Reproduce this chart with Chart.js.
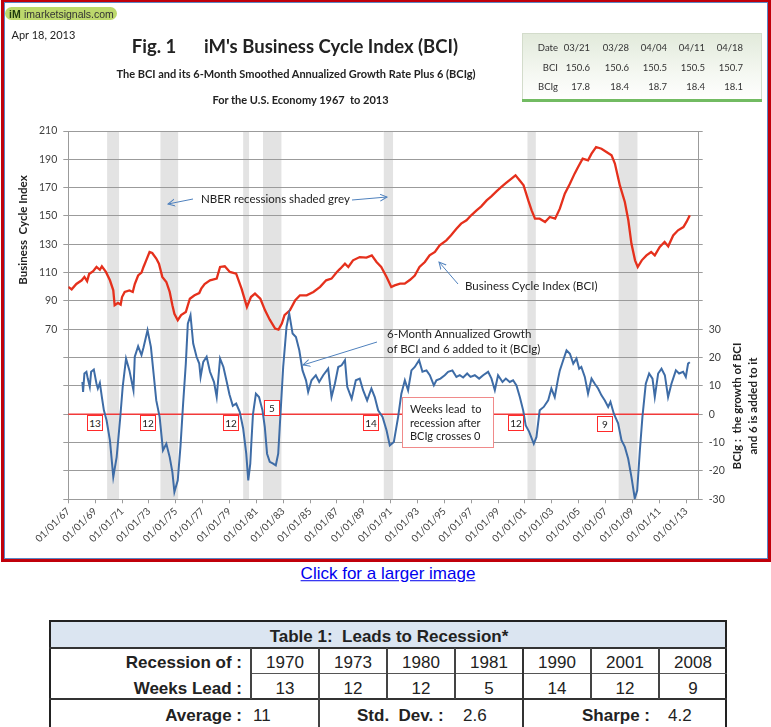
<!DOCTYPE html>
<html><head><meta charset="utf-8">
<script src="https://cdn.jsdelivr.net/npm/chart.js@4.4.1/dist/chart.umd.min.js"></script>
<style>
html,body{margin:0;padding:0;background:#fff;width:771px;height:727px;overflow:hidden;font-family:Lato,sans-serif;color:#222;}
#wrap{position:relative;width:771px;height:727px;}
.t{position:absolute;white-space:nowrap;line-height:1.15;}
.c{transform:translate(-50%,-50%);}
.l{transform:translate(0,-50%);}
.r{transform:translate(-100%,-50%);}
.rot{transform:translate(-50%,-50%) rotate(-90deg);}
.b{font-weight:bold;}
.box{position:absolute;box-sizing:border-box;}
.lbl{position:absolute;box-sizing:border-box;width:16px;height:16px;border:1px solid #ff2a2a;background:#fff;font-size:10px;line-height:14px;text-align:center;color:#222;}
.ar{font-family:"Liberation Sans",Arial,sans-serif;}
.ln{position:absolute;}
</style></head><body>
<div id="wrap">
<canvas id="c" width="771" height="562" style="position:absolute;left:0;top:0;width:771px;height:562px;"></canvas>

<!-- frame -->
<div class="box" style="left:1px;top:0;width:770px;height:562px;border:3px solid #c0000b;border-top-width:2px;"></div>
<div class="box" style="left:4px;top:2px;width:764px;height:557px;border:1px solid #5b87c5;"></div>

<!-- logo -->
<div class="box" style="left:5px;top:7px;width:112px;height:13px;border-radius:7px;background:#bcd86c;"></div>
<div class="t l b ar" style="left:9px;top:13.5px;font-size:10.5px;color:#1e3a0c;">iM</div>
<div class="t l ar" style="left:24px;top:13.5px;font-size:10.5px;color:#333;">imarketsignals.com</div>

<div class="t l" style="left:11.5px;top:35px;font-size:11px;">Apr 18, 2013</div>
<div class="t c b" style="left:154px;top:47px;font-size:18.5px;">Fig. 1</div>
<div class="t c b" style="left:331px;top:47px;font-size:18.5px;">iM's Business Cycle Index (BCI)</div>
<div class="t c b" style="left:296px;top:74px;font-size:11px;">The BCI and its 6-Month Smoothed Annualized Growth Rate Plus 6 (BCIg)</div>
<div class="t c b" style="left:300.5px;top:99.5px;font-size:11px;">For the U.S. Economy 1967&nbsp; to 2013</div>

<!-- small table -->
<div class="box" style="left:522px;top:33px;width:240px;height:68px;border:1px solid #d3dccb;border-bottom:none;background:linear-gradient(#e2eadb,#f5f8f2 60%,#fff);"></div>
<div class="box" style="left:522px;top:99px;width:240px;height:3px;background:#72bb62;"></div>
<div id="smallTable"></div>

<!-- axis titles -->
<div class="t rot b" style="left:23px;top:230px;font-size:11.5px;">Business&nbsp; Cycle Index</div>
<div class="t rot b" style="left:737px;top:406px;font-size:11.5px;">BCIg :&nbsp; the growth of BCI</div>
<div class="t rot b" style="left:753px;top:405.5px;font-size:11.5px;">and 6 is added to it</div>

<!-- annotations -->
<div class="t l" style="left:201px;top:199px;font-size:11.5px;">NBER recessions shaded grey</div>
<div class="t l" style="left:465px;top:286px;font-size:11.5px;">Business Cycle Index (BCI)</div>
<div class="t l" style="left:387px;top:333.5px;font-size:11.5px;">6-Month Annualized Growth</div>
<div class="t l" style="left:387px;top:348.5px;font-size:11.5px;">of BCI and 6 added to it (BCIg)</div>
<div class="box" style="left:402px;top:397px;width:92px;height:51px;border:1px solid #f08a8a;background:#fff;"></div>
<div class="t l" style="left:410px;top:408.5px;font-size:11px;">Weeks lead&nbsp; to</div>
<div class="t l" style="left:410px;top:422.5px;font-size:11px;">recession after</div>
<div class="t l" style="left:410px;top:436px;font-size:11px;">BCIg crosses 0</div>
<div id="leadLabels"></div>

<svg width="771" height="562" style="position:absolute;left:0;top:0;overflow:visible">
<defs><marker id="ah" markerWidth="9" markerHeight="9" refX="7" refY="4" orient="auto" markerUnits="userSpaceOnUse"><path d="M0,0.5 L7,4 L0,7.5" fill="none" stroke="#4f81bd" stroke-width="1"/></marker></defs>
<line x1="193" y1="199" x2="168" y2="204" stroke="#4f81bd" stroke-width="1" marker-end="url(#ah)"/>
<line x1="352" y1="200" x2="387" y2="197" stroke="#4f81bd" stroke-width="1" marker-end="url(#ah)"/>
<line x1="458" y1="284" x2="439" y2="262" stroke="#4f81bd" stroke-width="1" marker-end="url(#ah)"/>
<line x1="377" y1="342" x2="303" y2="365" stroke="#4f81bd" stroke-width="1" marker-end="url(#ah)"/>
</svg>

<!-- link -->
<div class="t c ar" style="left:388px;top:573.5px;font-size:17px;color:#0000ee;text-decoration:underline;">Click for a larger image</div>

<!-- bottom table -->
<div class="box" style="left:49px;top:620px;width:678px;height:115px;border:2px solid #222;"></div>
<div class="box" style="left:51px;top:622px;width:674px;height:26px;background:#dbe5f1;"></div>
<div class="ln" style="left:49px;top:647px;width:678px;height:2px;background:#333;"></div>
<div class="ln" style="left:251px;top:673px;width:476px;height:1px;background:#555;"></div>
<div class="ln" style="left:49px;top:698px;width:678px;height:2px;background:#333;"></div>
<div class="ln" style="left:250px;top:648px;width:2px;height:51px;background:#444;"></div>
<div class="ln" style="left:318px;top:648px;width:2px;height:90px;background:#444;"></div>
<div class="ln" style="left:386px;top:648px;width:2px;height:51px;background:#444;"></div>
<div class="ln" style="left:454px;top:648px;width:2px;height:51px;background:#444;"></div>
<div class="ln" style="left:522px;top:648px;width:2px;height:90px;background:#333;"></div>
<div class="ln" style="left:590px;top:648px;width:2px;height:51px;background:#444;"></div>
<div class="ln" style="left:658px;top:648px;width:2px;height:51px;background:#444;"></div>
<div class="t c b ar" style="left:389px;top:636.5px;font-size:17px;">Table 1:&nbsp; Leads to Recession*</div>
<div class="t r b ar" style="left:242px;top:662.5px;font-size:17px;">Recession of :</div>
<div class="t r b ar" style="left:242px;top:688.5px;font-size:17px;">Weeks Lead :</div>
<div class="t r b ar" style="left:242px;top:716px;font-size:17px;">Average :</div>
<div class="t l ar" style="left:253px;top:716px;font-size:17px;">11</div>
<div class="t l b ar" style="left:357px;top:716px;font-size:17px;">Std.&nbsp; Dev. :</div>
<div class="t l ar" style="left:463px;top:716px;font-size:17px;">2.6</div>
<div class="t l b ar" style="left:582px;top:716px;font-size:17px;">Sharpe :</div>
<div class="t l ar" style="left:668px;top:716px;font-size:17px;">4.2</div>
<div id="leadTable"></div>
</div>

<script>
// ---------- data ----------
const bciYears = [1967.0,1967.25,1967.6,1968.0,1968.2,1968.4,1968.55,1968.85,1969.1,1969.35,1969.5,1969.8,1970.1,1970.35,1970.45,1970.7,1970.9,1971.0,1971.2,1971.55,1971.8,1971.95,1972.2,1972.45,1972.6,1972.8,1973.05,1973.25,1973.55,1973.75,1974.0,1974.3,1974.55,1974.75,1974.9,1975.15,1975.4,1975.75,1976.05,1976.4,1976.75,1976.9,1977.15,1977.55,1978.05,1978.3,1978.65,1979.03,1979.5,1979.9,1980.3,1980.6,1980.9,1981.3,1981.65,1982.0,1982.4,1982.65,1982.9,1983.1,1983.5,1983.9,1984.25,1984.75,1985.25,1985.75,1986.2,1986.6,1987.0,1987.25,1987.6,1987.85,1988.2,1988.7,1989.2,1989.6,1989.95,1990.3,1990.7,1991.05,1991.3,1991.7,1992.05,1992.45,1992.8,1993.15,1993.55,1993.9,1994.3,1994.65,1995.15,1995.5,1995.9,1996.25,1996.65,1997.0,1997.4,1997.75,1998.15,1998.5,1998.9,1999.25,1999.6,2000.0,2000.3,2000.6,2000.9,2001.25,2001.5,2001.75,2002.1,2002.5,2002.85,2003.25,2003.6,2003.97,2004.35,2004.7,2004.96,2005.3,2005.7,2005.96,2006.3,2006.7,2007.07,2007.45,2007.7,2008.07,2008.44,2008.7,2008.93,2009.2,2009.4,2009.7,2010.05,2010.4,2010.67,2011.04,2011.4,2011.67,2012.04,2012.4,2012.8,2013.03,2013.28];
const bciValues = [100,98.2,102,104.6,107,104,109,111,114,112,114.5,110.5,104.6,97.5,87,88.6,87.4,92.8,96.4,97.5,96.4,102,108,110,114,118.7,124.6,123.9,120,116.3,107,103.4,96.4,87,81,76.4,80,82.2,91.6,94,95.6,98.7,102,104.6,105.8,114,114.5,110.5,109.3,98.7,85.8,92.8,95.2,91.6,83.4,76.8,70.5,69.8,74,80,83.4,90.5,94,94,96.4,100,104.6,105.8,110.5,112.8,116.3,114,118.7,121,120.6,122.2,117.5,114,107,99.9,101,102.2,102.2,105,108,114,117.5,122.2,124.6,129.3,132.8,136.4,141,144.6,147,150.5,154,156.8,161,163.9,167.6,170.5,173.3,176.4,178.7,175.2,171.6,161,154,148.1,148.1,145.8,149.3,148.1,155.2,165.8,172.8,179.9,184.6,190.5,189.3,194,198.7,197.5,195.2,192.8,187,171.6,159.9,147,130.5,118.7,114,118.7,122.2,124.6,122.2,128.1,131.6,128.6,136.3,139.9,142.2,145.8,150.5];

const bcigYears = [1968.05,1968.1,1968.2,1968.35,1968.45,1968.6,1968.7,1968.9,1969.1,1969.2,1969.35,1969.5,1969.65,1969.85,1970.1,1970.35,1970.6,1970.85,1971.05,1971.3,1971.55,1971.85,1971.95,1972.2,1972.45,1972.6,1972.9,1973.15,1973.35,1973.55,1973.8,1974.05,1974.3,1974.55,1974.75,1974.9,1975.15,1975.35,1975.55,1975.75,1975.9,1976.1,1976.3,1976.55,1976.75,1976.85,1977.05,1977.3,1977.55,1977.85,1978.05,1978.3,1978.55,1978.8,1979.0,1979.25,1979.5,1979.77,1980.02,1980.25,1980.4,1980.55,1980.64,1980.75,1980.97,1981.2,1981.46,1981.63,1981.8,1982.0,1982.25,1982.45,1982.63,1982.8,1983.0,1983.25,1983.45,1983.7,1983.95,1984.2,1984.44,1984.7,1984.86,1985.11,1985.43,1985.68,1985.98,1986.35,1986.6,1986.85,1987.1,1987.35,1987.6,1987.77,1988.1,1988.41,1988.7,1988.95,1989.25,1989.57,1989.82,1990.07,1990.4,1990.7,1990.94,1991.24,1991.56,1991.8,1992.06,1992.3,1992.55,1992.8,1993.12,1993.37,1993.67,1993.92,1994.22,1994.41,1994.71,1995.03,1995.28,1995.6,1995.9,1996.15,1996.4,1996.7,1996.95,1997.27,1997.59,1997.89,1998.26,1998.51,1998.76,1999.0,1999.33,1999.58,1999.87,2000.12,2000.37,2000.62,2000.87,2001.06,2001.31,2001.66,2001.86,2002.1,2002.4,2002.73,2002.97,2003.22,2003.47,2003.6,2003.85,2004.1,2004.35,2004.6,2004.84,2005.04,2005.2,2005.46,2005.7,2005.96,2006.2,2006.45,2006.7,2006.95,2007.2,2007.37,2007.62,2007.94,2008.19,2008.44,2008.69,2008.93,2009.18,2009.36,2009.56,2009.75,2010.0,2010.25,2010.5,2010.67,2010.92,2011.17,2011.42,2011.66,2011.91,2012.24,2012.48,2012.78,2012.98,2013.15,2013.28];
const bcigValues = [11.4,7.9,14.4,15,12.6,9.7,15,15.8,10.8,9.1,11.1,6.1,1.4,-2.1,-9.2,-22.1,-15.1,-2.1,9.7,19.7,15.5,8.5,20.3,24,20.9,23.6,29.7,23.8,14.4,4.9,-0.9,-12.7,-10.4,-15.1,-20.4,-27.4,-23.3,-11.5,3.8,17.9,32,35,25,20.3,17.9,13.2,18.5,20.3,15,11.4,6.1,19.7,16.7,11.4,7,3,3.8,0.8,-5,-13.9,-23.3,-17.4,-9.2,0,7.3,6.1,1.4,-4.4,-13.9,-16.8,-17.4,-18,-13.9,0.2,16.7,30.9,35.6,28.5,27.3,22.6,15.5,12,7.9,12,13.8,11.4,13.8,16.1,6.1,10.8,16.7,17.3,19.1,9.7,5.5,12,12.6,8.5,4.9,9.1,6.1,1.4,-0.9,-5.7,-11,-9.8,-0.9,7.3,12,8.5,15.5,16.7,19.1,15,15.5,13.8,10.2,12,12.6,13.8,15,15.5,13.2,13.8,13,14.4,13.2,13.8,12.6,13.8,15,12.6,8.5,13.8,11.4,12.6,11.4,12,10.2,6.1,1.4,-3.9,-6.1,-10.4,-8,1.4,2.6,4.9,9.1,6.1,12.6,15.5,19.1,22.6,21.4,17.9,19.7,16.1,16.7,13.2,7.3,12.6,10.8,9.1,6.7,4.9,2.6,4.4,0.2,-3.2,-9.1,-11.5,-15.7,-22.1,-29.7,-26.9,-12.7,-0.9,10.8,14.4,12.6,6.1,14.4,16.1,13.8,6.1,10.8,15.5,14.4,15,13.2,17.9,18.4];

const recessionStarts = [1969.89,1973.86,1980.02,1981.5,1990.49,2001.19,2007.98];
const recessionEnds   = [1970.78,1975.18,1980.46,1982.87,1991.18,2001.81,2009.38];

const xTickYears = [1967,1969,1971,1973,1975,1977,1979,1981,1983,1985,1987,1989,1991,1993,1995,1997,1999,2001,2003,2005,2007,2009,2011,2013];
const zeroLineValue = 0;

const tableDates = ['03/21','03/28','04/04','04/11','04/18'];
const tableBCI   = ['150.6','150.6','150.5','150.5','150.7'];
const tableBCIg  = ['17.8','18.4','18.7','18.4','18.1'];

const recessionYears = ['1970','1973','1980','1981','1990','2001','2008'];
const weeksLead = ['13','12','12','5','14','12','9'];

// ---------- HTML tables / labels ----------
(function(){
  const st = document.getElementById('smallTable');
  const colRight = [590,629,667,705,743];
  const rows = [['Date',tableDates,48],['BCI',tableBCI,67.5],['BCIg',tableBCIg,86.5]];
  let h = '';
  rows.forEach(r => {
    h += `<div class="t r" style="left:558px;top:${r[2]}px;font-size:9.5px;color:#333;">${r[0]}</div>`;
    r[1].forEach((v,i) => { h += `<div class="t r" style="left:${colRight[i]}px;top:${r[2]}px;font-size:9.5px;color:#333;">${v}</div>`; });
  });
  st.innerHTML = h;

  const lt = document.getElementById('leadTable');
  let g = '';
  recessionYears.forEach((y,i) => {
    const cx = 285 + i*68;
    g += `<div class="t c ar" style="left:${cx}px;top:662.5px;font-size:17px;">${y}</div>`;
    g += `<div class="t c ar" style="left:${cx}px;top:688.5px;font-size:17px;">${weeksLead[i]}</div>`;
  });
  lt.innerHTML = g;

  const boxes = [[87,415],[140,415],[223,415],[264,400],[363,415],[508,415],[597,416]];
  let b = '';
  boxes.forEach((p,i) => { b += `<div class="lbl" style="left:${p[0]}px;top:${p[1]}px;">${weeksLead[i]}</div>`; });
  document.getElementById('leadLabels').innerHTML = b;
})();

// ---------- chart ----------
Chart.defaults.font.family = 'Lato';
const gridColor = '#9b9b9b';

const shadePlugin = {
  id: 'shade',
  beforeDraw(chart) {
    const {ctx, chartArea, scales} = chart;
    ctx.save();
    ctx.fillStyle = '#e3e3e3';
    recessionStarts.forEach((s, i) => {
      const x1 = scales.x.getPixelForValue(s);
      const x2 = scales.x.getPixelForValue(recessionEnds[i]);
      ctx.fillRect(x1, chartArea.top, x2 - x1, chartArea.bottom - chartArea.top);
    });
    ctx.restore();
  },
  beforeDatasetsDraw(chart) {
    const {ctx, chartArea, scales} = chart;
    const y = scales.y2.getPixelForValue(zeroLineValue);
    ctx.save();
    ctx.strokeStyle = '#f23a3a';
    ctx.lineWidth = 1.5;
    ctx.beginPath();
    ctx.moveTo(chartArea.left, y);
    ctx.lineTo(chartArea.right, y);
    ctx.stroke();
    ctx.restore();
  }
};

new Chart(document.getElementById('c'), {
  type: 'line',
  data: {
    datasets: [
      {
        label: 'BCIg',
        data: bcigYears.map((x, i) => ({x, y: bcigValues[i]})),
        yAxisID: 'y2',
        borderColor: '#3e6ca6',
        borderWidth: 2,
        pointRadius: 0,
        tension: 0
      },
      {
        label: 'BCI',
        data: bciYears.map((x, i) => ({x, y: bciValues[i]})),
        yAxisID: 'y',
        borderColor: '#e5301c',
        borderWidth: 2.3,
        pointRadius: 0,
        tension: 0
      }
    ]
  },
  options: {
    responsive: false,
    animation: false,
    devicePixelRatio: 1,
    layout: { padding: { top: 131, left: 0, right: 0, bottom: 0 } },
    plugins: { legend: { display: false }, tooltip: { enabled: false } },
    scales: {
      x: {
        type: 'linear', min: 1967, max: 2013.94,
        afterBuildTicks: s => { s.ticks = xTickYears.map(v => ({value: v})); },
        ticks: {
          autoSkip: false, maxRotation: 45, minRotation: 45, padding: 2,
          color: '#404040', font: { size: 10 },
          callback: v => '01/01/' + String(v % 100).padStart(2, '0')
        },
        grid: { drawOnChartArea: false, drawTicks: true, tickLength: 4, color: gridColor },
        border: { display: true, color: gridColor },
        afterFit: s => { s.height = 62.7; s.paddingLeft = 0; s.paddingRight = 0; }
      },
      y: {
        position: 'left', min: -50, max: 210,
        ticks: { stepSize: 20, padding: 6, color: '#404040', font: { size: 10.5 },
          callback: v => v >= 70 ? String(v) : '' },
        grid: { color: gridColor, tickLength: 5, drawTicks: true },
        border: { display: true, color: gridColor },
        afterFit: s => { s.width = 68.3; s.paddingTop = 0; s.paddingBottom = 0; }
      },
      y2: {
        position: 'right', min: -30, max: 100,
        ticks: { stepSize: 10, padding: 6, color: '#404040', font: { size: 10.5 },
          callback: v => v <= 30 ? String(v) : '' },
        grid: { drawOnChartArea: false, tickLength: 4, drawTicks: true, color: gridColor },
        border: { display: true, color: gridColor },
        afterFit: s => { s.width = 72.3; s.paddingTop = 0; s.paddingBottom = 0; }
      }
    }
  },
  plugins: [shadePlugin]
});
</script>
</body></html>
